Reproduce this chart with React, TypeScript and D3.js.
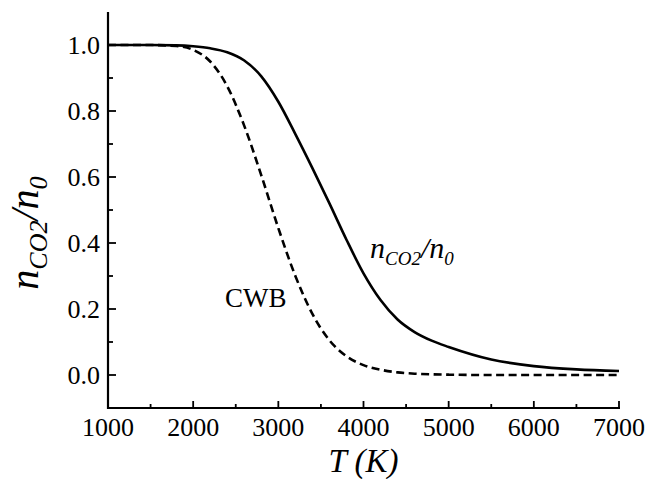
import React from "react";
import * as d3 from "d3";

const temps = [1000, 1500, 1800, 2000, 2200, 2400, 2600, 2800, 3000, 3200, 3400, 3600, 3800, 4000, 4200, 4400, 4600, 4800, 5000, 5500, 6000, 6500, 7000];
const solidValues = [1.0, 1.0, 0.999, 0.996, 0.99, 0.978, 0.953, 0.905, 0.828, 0.73, 0.627, 0.52, 0.41, 0.308, 0.227, 0.168, 0.13, 0.104, 0.085, 0.047, 0.027, 0.017, 0.012];
const cwbValues = [1.0, 1.0, 0.997, 0.985, 0.95, 0.875, 0.755, 0.605, 0.445, 0.3, 0.185, 0.105, 0.057, 0.03, 0.016, 0.008, 0.004, 0.002, 0.001, 0.0, 0.0, 0.0, 0.0];
const xMajorTicks = [1000, 2000, 3000, 4000, 5000, 6000, 7000];
const xMinorTicks = [1500, 2500, 3500, 4500, 5500, 6500];
const yMajorTicks = [0, 0.2, 0.4, 0.6, 0.8, 1.0];
const yMinorTicks = [0.1, 0.3, 0.5, 0.7, 0.9];

const W = 647;
const H = 479;
const FONT = "Liberation Serif, DejaVu Serif, serif";
const serif = { fontFamily: FONT };

export default function App() {
  const x = d3.scaleLinear().domain([1000, 7000]).range([108, 619]);
  const y = d3.scaleLinear().domain([-0.1, 1.1]).range([408, 12]);
  const line = d3
    .line<number>()
    .x((_, i) => x(temps[i]))
    .y((d) => y(d))
    .curve(d3.curveMonotoneX);

  const x0 = x.range()[0];
  const y0 = y.range()[0];

  return (
    <svg
      width={W}
      height={H}
      style={{ position: "absolute", left: 0, top: 0, background: "#fff", fontFamily: FONT }}
    >
      <rect x={0} y={0} width={W} height={H} fill="#fff" />
      {/* curves */}
      <path d={line(cwbValues) || ""} fill="none" stroke="#000" strokeWidth={2.6} strokeDasharray="8,4.5" />
      <path d={line(solidValues) || ""} fill="none" stroke="#000" strokeWidth={2.6} />

      {/* axes */}
      <line x1={x0} x2={x0} y1={y.range()[1]} y2={y0 + 1} stroke="#000" strokeWidth={2.2} />
      <line x1={x0 - 1} x2={x(7000) + 1} y1={y0} y2={y0} stroke="#000" strokeWidth={2.2} />

      {xMajorTicks.map((t) => (
        <g key={"xm" + t}>
          <line x1={x(t)} x2={x(t)} y1={y0} y2={y0 - 7} stroke="#000" strokeWidth={1.8} />
          <text x={x(t)} y={y0 + 28} fontSize={26} textAnchor="middle" fill="#000" style={serif}>
            {t}
          </text>
        </g>
      ))}
      {xMinorTicks.map((t) => (
        <line key={"xn" + t} x1={x(t)} x2={x(t)} y1={y0} y2={y0 - 4} stroke="#000" strokeWidth={1.8} />
      ))}
      {yMajorTicks.map((v) => (
        <g key={"ym" + v}>
          <line x1={x0} x2={x0 + 8} y1={y(v)} y2={y(v)} stroke="#000" strokeWidth={1.8} />
          <text x={100} y={y(v) + 8.5} fontSize={26} textAnchor="end" fill="#000" style={serif}>
            {v.toFixed(1)}
          </text>
        </g>
      ))}
      {yMinorTicks.map((v) => (
        <line key={"yn" + v} x1={x0} x2={x0 + 5} y1={y(v)} y2={y(v)} stroke="#000" strokeWidth={1.8} />
      ))}

      {/* x axis title */}
      <text x={(x(1000) + x(7000)) / 2} y={471.5} fontSize={33} fontStyle="italic" textAnchor="middle" fill="#000" style={serif}>
        T (K)
      </text>

      {/* y axis title */}
      <text transform="translate(38,233) rotate(-90)" fontSize={40} fontStyle="italic" textAnchor="middle" fill="#000" style={serif}>
        <tspan>n</tspan>
        <tspan fontSize={26} dy={9}>CO2</tspan>
        <tspan dy={-9}>/n</tspan>
        <tspan fontSize={26} dy={9}>0</tspan>
      </text>

      {/* inline labels */}
      <text x={370} y={258} fontSize={30} fontStyle="italic" fill="#000" style={serif}>
        <tspan>n</tspan>
        <tspan fontSize={19} dy={7}>CO2</tspan>
        <tspan dy={-7}>/n</tspan>
        <tspan fontSize={19} dy={7}>0</tspan>
      </text>
      <text x={225} y={307} fontSize={27} fill="#000" style={serif}>
        CWB
      </text>
    </svg>
  );
}
